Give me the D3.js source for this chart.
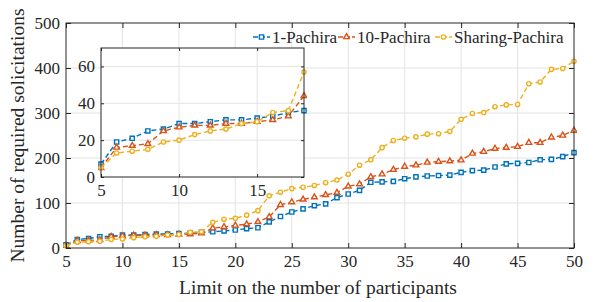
<!DOCTYPE html>
<html>
<head>
<meta charset="utf-8">
<script src="https://cdn.jsdelivr.net/npm/d3@7"></script>
<style>
  body { margin: 0; background: #fff; }
  svg { font-family: "Liberation Serif", "Times New Roman", serif; }
</style>
</head>
<body>
<div id="chart"></div>
<script>
// limit on participants, 5..50
let participants = [5, 6, 7, 8, 9, 10, 11, 12, 13, 14, 15, 16, 17, 18, 19, 20, 21, 22, 23, 24, 25, 26, 27,
    28, 29, 30, 31, 32, 33, 34, 35, 36, 37, 38, 39, 40, 41, 42, 43, 44, 45, 46, 47, 48, 49, 50];

let one_pachira = [7, 19, 21, 25, 26, 29, 29, 30, 31, 31, 32, 33, 35, 36, 38, 40, 43, 45, 58, 70, 80, 87, 94,
    98, 112, 120, 128, 146, 147, 148, 154, 158, 160, 161, 162, 168, 172, 173, 180, 187, 188, 190, 196, 197, 203, 212];

let ten_pachira = [5, 16, 17, 18, 25, 27, 28, 28, 29, 29, 30, 31, 33, 44, 47, 50, 53, 58, 69, 96, 102, 108, 113,
    118, 123, 137, 142, 158, 164, 174, 181, 184, 190, 192, 193, 195, 210, 214, 221, 223, 225, 234, 234, 246, 250, 261];

let sharing_pachira = [5, 13, 14, 15, 19, 20, 23, 25, 26, 29, 30, 35, 36, 57, 64, 66, 73, 83, 116, 124, 132, 135, 139,
    145, 151, 164, 184, 196, 223, 239, 244, 247, 253, 254, 259, 286, 299, 301, 314, 318, 319, 365, 369, 397, 399, 415];

let series_names = ["1-Pachira", "10-Pachira", "Sharing-Pachira"];
let x_ticks = [5, 10, 15, 20, 25, 30, 35, 40, 45, 50];
let y_ticks = [0, 100, 200, 300, 400, 500];
let inset_x_ticks = [5, 10, 15];
let inset_y_ticks = [0, 20, 40, 60];

let colors = ["#0072BD", "#D95319", "#EDB120"];
let markers = ["square", "triangle", "circle"];

let all_series = [one_pachira, ten_pachira, sharing_pachira].map(function(vals, i) {
    return {
        name: series_names[i],
        color: colors[i],
        marker: markers[i],
        points: participants.map(function(p, j) { return { x: p, y: vals[j] }; })
    };
});

let chart_width = 597;
let chart_height = 302;
let text_color = "#262626";

let svg = d3.select("#chart")
            .append("svg")
            .attr("width", chart_width)
            .attr("height", chart_height);

function marker_path(kind, size) {
    if (kind === "square") return d3.symbol().type(d3.symbolSquare).size(size * size)();
    if (kind === "triangle") return d3.symbol().type(d3.symbolTriangle).size(size * size * 0.8)();
    return d3.symbol().type(d3.symbolCircle).size(size * size * 0.8)();
}

// draws one set of axes (main or inset)
function draw_axes(g, box, x_domain, y_domain, xt, yt, tick_len, data_clip, series_list) {

    let xScale = d3.scaleLinear().domain(x_domain).range([box.left, box.right]);
    let yScale = d3.scaleLinear().domain(y_domain).range([box.bottom, box.top]);

    g.append("rect")
        .attr("x", box.left).attr("y", box.top)
        .attr("width", box.right - box.left)
        .attr("height", box.bottom - box.top)
        .attr("fill", "white");

    // grid
    g.append("g").selectAll("line")
        .data(xt.filter(function(d) { return d > x_domain[0] && d < x_domain[1]; }))
        .enter().append("line")
        .attr("x1", function(d) { return xScale(d); })
        .attr("x2", function(d) { return xScale(d); })
        .attr("y1", box.top).attr("y2", box.bottom)
        .attr("stroke", "#e3e3e3").attr("stroke-width", 1);
    g.append("g").selectAll("line")
        .data(yt.filter(function(d) { return d > y_domain[0] && d < y_domain[1]; }))
        .enter().append("line")
        .attr("y1", function(d) { return yScale(d); })
        .attr("y2", function(d) { return yScale(d); })
        .attr("x1", box.left).attr("x2", box.right)
        .attr("stroke", "#e3e3e3").attr("stroke-width", 1);

    g.append("clipPath").attr("id", data_clip)
        .append("rect")
        .attr("x", box.left - 3).attr("y", box.top)
        .attr("width", box.right - box.left + 6)
        .attr("height", box.bottom - box.top + 3);

    let line = d3.line()
                 .x(function(d) { return xScale(d.x); })
                 .y(function(d) { return yScale(d.y); });

    let data_g = g.append("g").attr("clip-path", "url(#" + data_clip + ")");

    series_list.forEach(function(s) {
        let pts = s.points.filter(function(d) { return d.x <= x_domain[1]; });
        data_g.append("path")
            .datum(pts)
            .attr("d", line)
            .attr("fill", "none")
            .attr("stroke", s.color)
            .attr("stroke-width", 1.4)
            .attr("stroke-dasharray", "5,3");
        data_g.selectAll(".m_" + s.marker)
            .data(pts)
            .enter()
            .append("path")
            .attr("class", "m_" + s.marker)
            .attr("d", marker_path(s.marker, 4.2))
            .attr("transform", function(d) {
                return "translate(" + xScale(d.x) + "," + yScale(d.y) + ")";
            })
            .attr("fill", "white")
            .attr("stroke", s.color)
            .attr("stroke-width", 1.4);
    });

    // box
    g.append("rect")
        .attr("x", box.left).attr("y", box.top)
        .attr("width", box.right - box.left)
        .attr("height", box.bottom - box.top)
        .attr("fill", "none")
        .attr("stroke", text_color)
        .attr("stroke-width", 1);

    // inward ticks on all sides
    let axis_bottom = d3.axisBottom(xScale).tickValues(xt).tickSize(-tick_len).tickSizeOuter(0).tickPadding(7);
    let axis_top = d3.axisTop(xScale).tickValues(xt).tickSize(-tick_len).tickSizeOuter(0).tickFormat("");
    let axis_left = d3.axisLeft(yScale).tickValues(yt).tickSize(-tick_len).tickSizeOuter(0).tickPadding(6);
    let axis_right = d3.axisRight(yScale).tickValues(yt).tickSize(-tick_len).tickSizeOuter(0).tickFormat("");

    let xb = g.append("g").attr("transform", "translate(0," + box.bottom + ")").call(axis_bottom);
    let xtp = g.append("g").attr("transform", "translate(0," + box.top + ")").call(axis_top);
    let yl = g.append("g").attr("transform", "translate(" + box.left + ",0)").call(axis_left);
    let yr = g.append("g").attr("transform", "translate(" + box.right + ",0)").call(axis_right);

    [xb, xtp, yl, yr].forEach(function(a) {
        a.select(".domain").remove();
        a.selectAll("line").attr("stroke", text_color);
        a.selectAll("text")
            .attr("fill", text_color)
            .style("font-family", "'Liberation Serif', serif")
            .style("font-size", "17px");
    });

    return [xScale, yScale];
}

let main_box = { left: 66, right: 574, top: 23, bottom: 248 };
let main_g = svg.append("g");
draw_axes(main_g, main_box, [5, 50], [0, 500], x_ticks, y_ticks, 5, "main_clip", all_series);

// axis labels
svg.append("text")
    .attr("x", (main_box.left + main_box.right) / 2 - 2)
    .attr("y", 294)
    .attr("text-anchor", "middle")
    .attr("fill", text_color)
    .style("font-size", "19.5px")
    .text("Limit on the number of participants");

svg.append("text")
    .attr("transform", "translate(24," + ((main_box.top + main_box.bottom) / 2) + ") rotate(-90)")
    .attr("text-anchor", "middle")
    .attr("fill", text_color)
    .style("font-size", "19.5px")
    .text("Number of required solicitations");

// legend
let legend_x = [253, 338, 435];
let legend_y = 37;
let legend = svg.append("g");
all_series.forEach(function(s, i) {
    let lx = legend_x[i];
    legend.append("line")
        .attr("x1", lx).attr("x2", lx + 17)
        .attr("y1", legend_y).attr("y2", legend_y)
        .attr("stroke", s.color)
        .attr("stroke-width", 1.4)
        .attr("stroke-dasharray", "5,2");
    legend.append("path")
        .attr("d", marker_path(s.marker, 4.2))
        .attr("transform", "translate(" + (lx + 8.5) + "," + legend_y + ")")
        .attr("fill", "white")
        .attr("stroke", s.color)
        .attr("stroke-width", 1.4);
    legend.append("text")
        .attr("x", lx + 19)
        .attr("y", legend_y + 5.5)
        .attr("fill", text_color)
        .style("font-size", "17px")
        .text(s.name);
});

// inset zoom on 5..18
let inset_box = { left: 101, right: 304, top: 48, bottom: 177 };
let inset_g = svg.append("g");
draw_axes(inset_g, inset_box, [5, 18], [0, 70], inset_x_ticks, inset_y_ticks, 3, "inset_clip", all_series);
</script>
</body>
</html>
